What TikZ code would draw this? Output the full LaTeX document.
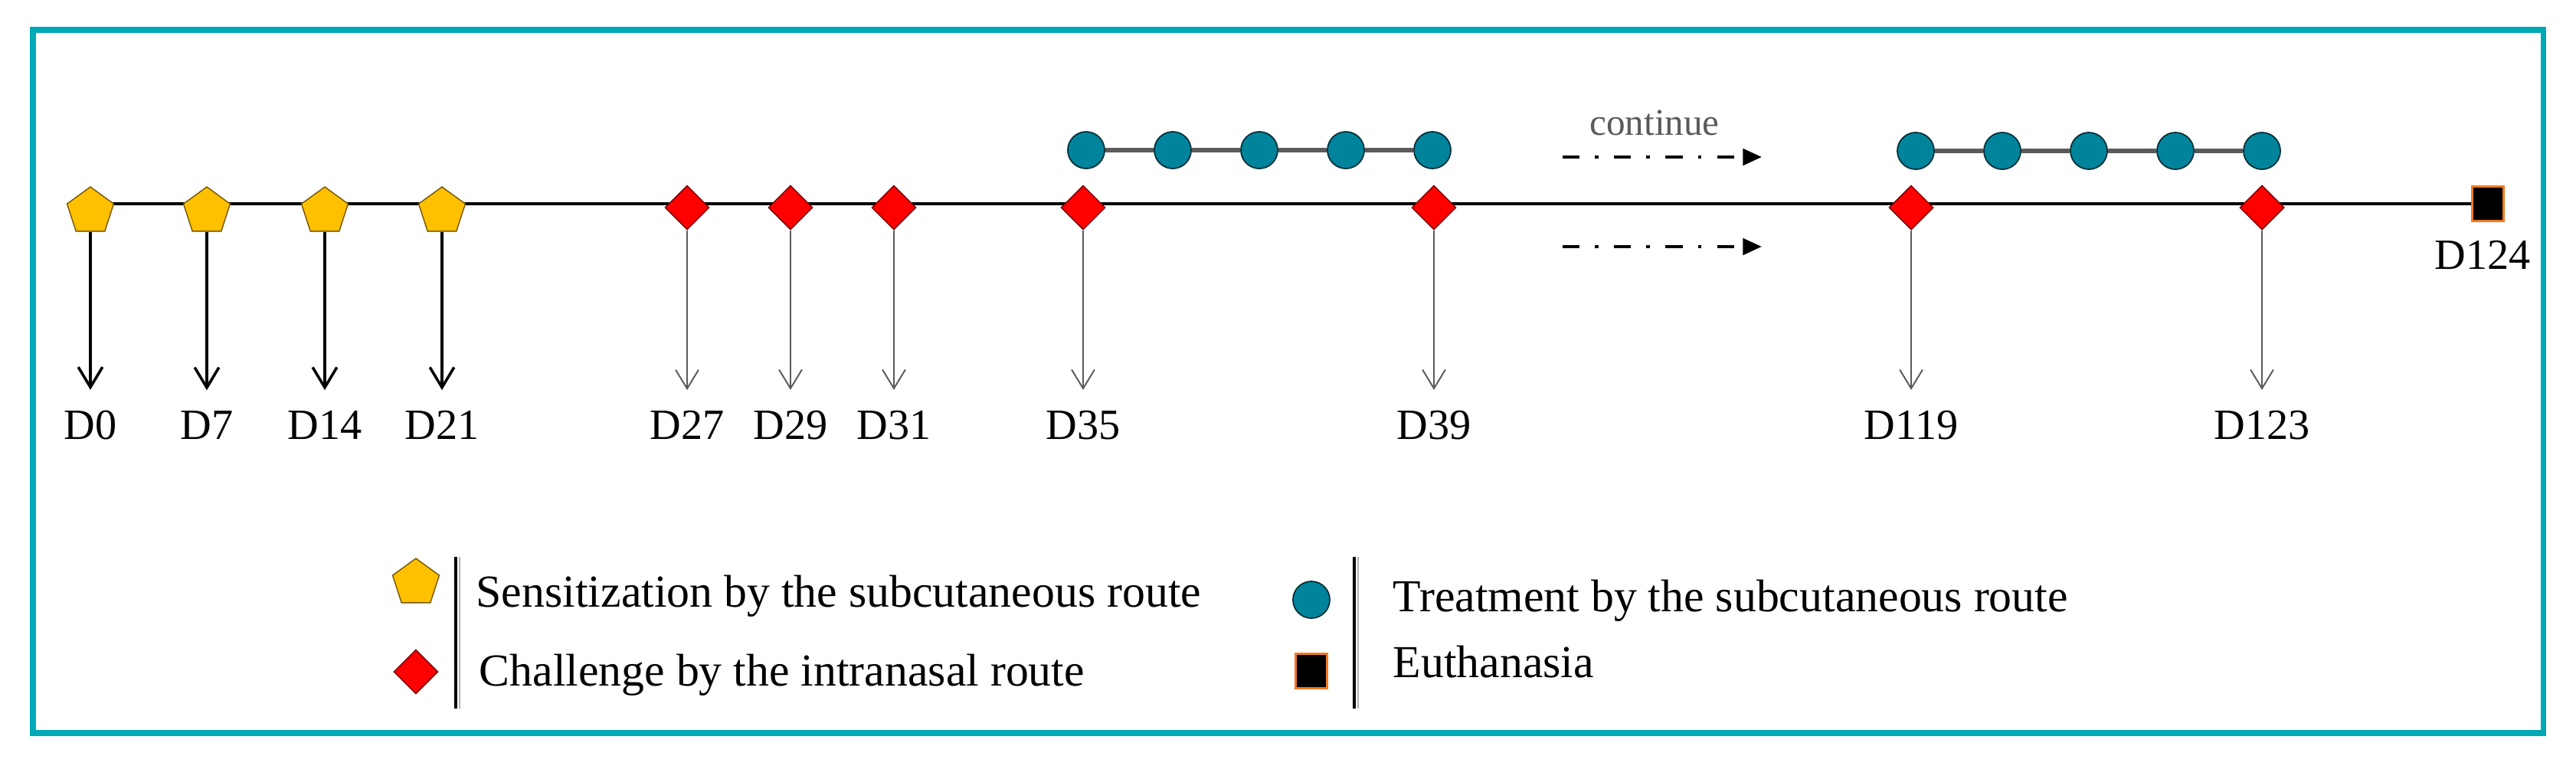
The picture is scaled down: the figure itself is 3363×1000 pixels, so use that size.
\documentclass[tikz,border=0pt]{standalone}
\usepackage{fontspec}
\setmainfont{Liberation Serif}
\usetikzlibrary{arrows.meta, positioning, shapes.geometric, backgrounds}
\definecolor{tlframe}{HTML}{00A9B6}
\definecolor{tlgold}{HTML}{FFC000}
\definecolor{tlred}{HTML}{FF0000}
\definecolor{tlteal}{HTML}{00849C}
\definecolor{tlorange}{HTML}{F07A1E}
\definecolor{tlgray}{HTML}{5A5A5A}

\begin{document}
\begin{tikzpicture}[x=0.01cm, y=-0.01cm,
  every node/.style={font=\fontsize{16}{18}\selectfont},
  sens/.style={regular polygon, regular polygon sides=5, minimum size=6.4mm, inner sep=0pt, fill=tlgold, draw=tlgold!45!black, line width=0.4pt},
  chal/.style={diamond, minimum width=5.8mm, minimum height=5.8mm, inner sep=0pt, fill=tlred, draw=tlred!45!black, line width=0.4pt},
  treat/.style={circle, minimum size=4.8mm, inner sep=0pt, fill=tlteal, draw=tlteal!35!black, line width=0.5pt},
  euth/.style={rectangle, minimum width=4.1mm, minimum height=4.5mm, inner sep=0pt, fill=black, draw=tlorange, line width=0.9pt},
  day/.style={inner sep=0pt},
  legtext/.style={inner sep=0pt, anchor=base west, font=\fontsize{17}{20}\selectfont},
  sensarrow/.style={-{Straight Barb[length=7.5pt, width=9pt]}, line width=1pt, shorten >=7.5pt},
  chalarrow/.style={-{Straight Barb[length=7pt, width=8.5pt]}, line width=0.55pt, draw=tlgray, shorten >=7.5pt},
  treatline/.style={line width=1.7pt, draw=tlgray},
  contarrow/.style={-{Triangle[length=7pt, width=6pt]}, line width=1.35pt, dash pattern=on 6.3pt off 5.7pt on 1.4pt off 5.7pt},
  timeline/.style={line width=1.1pt},
  legbar/.style={line width=1.2pt},
]
\useasboundingbox (0,0) rectangle (3363,1000);
\draw[tlframe, line width=2pt] (43,39) rectangle (3320,957);

% sensitization
\node[sens] (s0) at (118,276) {};
\node[sens] (s7) at (270,276) {};
\node[sens] (s14) at (424,276) {};
\node[sens] (s21) at (577,276) {};

% challenge
\node[chal] (c27) at (897,271) {};
\node[chal] (c29) at (1032,271) {};
\node[chal] (c31) at (1167,271) {};
\node[chal] (c35) at (1414,271) {};
\node[chal] (c39) at (1872,271) {};
\node[chal] (c119) at (2495,271) {};
\node[chal] (c123) at (2953,271) {};

% euthanasia
\node[euth] (sq) at (3248,266) {};
\node[day] (d124) at (3241,333) {D124};

% treatment
\node[treat] (t1) at (1418,196) {};
\node[treat] (t2) at (1531,196) {};
\node[treat] (t3) at (1644,196) {};
\node[treat] (t4) at (1757,196) {};
\node[treat] (t5) at (1870,196) {};
\draw[treatline] (t1) -- (t2) -- (t3) -- (t4) -- (t5);
\node[treat] (u1) at (2501,197) {};
\node[treat] (u2) at (2614,197) {};
\node[treat] (u3) at (2727,197) {};
\node[treat] (u4) at (2840,197) {};
\node[treat] (u5) at (2953,197) {};
\draw[treatline] (u1) -- (u2) -- (u3) -- (u4) -- (u5);

% day labels
\node[day] (d0) at (118,555) {D0};
\node[day] (d7) at (270,555) {D7};
\node[day] (d14) at (424,555) {D14};
\node[day] (d21) at (577,555) {D21};
\node[day] (d27) at (897,555) {D27};
\node[day] (d29) at (1032,555) {D29};
\node[day] (d31) at (1167,555) {D31};
\node[day] (d35) at (1414,555) {D35};
\node[day] (d39) at (1872,555) {D39};
\node[day] (d119) at (2495,555) {D119};
\node[day] (d123) at (2953,555) {D123};

\draw[sensarrow] (s0) -- (d0);
\draw[sensarrow] (s7) -- (d7);
\draw[sensarrow] (s14) -- (d14);
\draw[sensarrow] (s21) -- (d21);
\draw[chalarrow] (c27) -- (d27);
\draw[chalarrow] (c29) -- (d29);
\draw[chalarrow] (c31) -- (d31);
\draw[chalarrow] (c35) -- (d35);
\draw[chalarrow] (c39) -- (d39);
\draw[chalarrow] (c119) -- (d119);
\draw[chalarrow] (c123) -- (d123);

% continue
\node[text=tlgray, font=\fontsize{14}{16}\selectfont] (cont) at (2160,160) {continue};
\coordinate (ca1) at (2040,205);
\coordinate (ca2) at (2300,205);
\coordinate (cb1) at (2040,322);
\coordinate (cb2) at (2300,322);
\draw[contarrow] (ca1) -- (ca2);
\draw[contarrow] (cb1) -- (cb2);

\coordinate (start) at (118,266);
\begin{scope}[on background layer]
\draw[timeline] (start) -- (sq);
\end{scope}

% legend
\node[sens] (ls) at (543,761) {};
\node[chal] (lc) at (543,877) {};
\node[treat] (lt) at (1712,783) {};
\node[euth] (le) at (1712,876) {};
\draw[legbar] (595,727) -- (595,925);
\draw[gray!60, line width=0.5pt] (600,727) -- (600,925);
\draw[legbar] (1768,727) -- (1768,925);
\draw[gray!60, line width=0.5pt] (1773,727) -- (1773,925);
\node[legtext] (lst) at (621,792) {Sensitization by the subcutaneous route};
\node[legtext] (lct) at (625,895) {Challenge by the intranasal route};
\node[legtext] (ltt) at (1818,798) {Treatment by the subcutaneous route};
\node[legtext] (let) at (1818,884) {Euthanasia};
\end{tikzpicture}
\end{document}
